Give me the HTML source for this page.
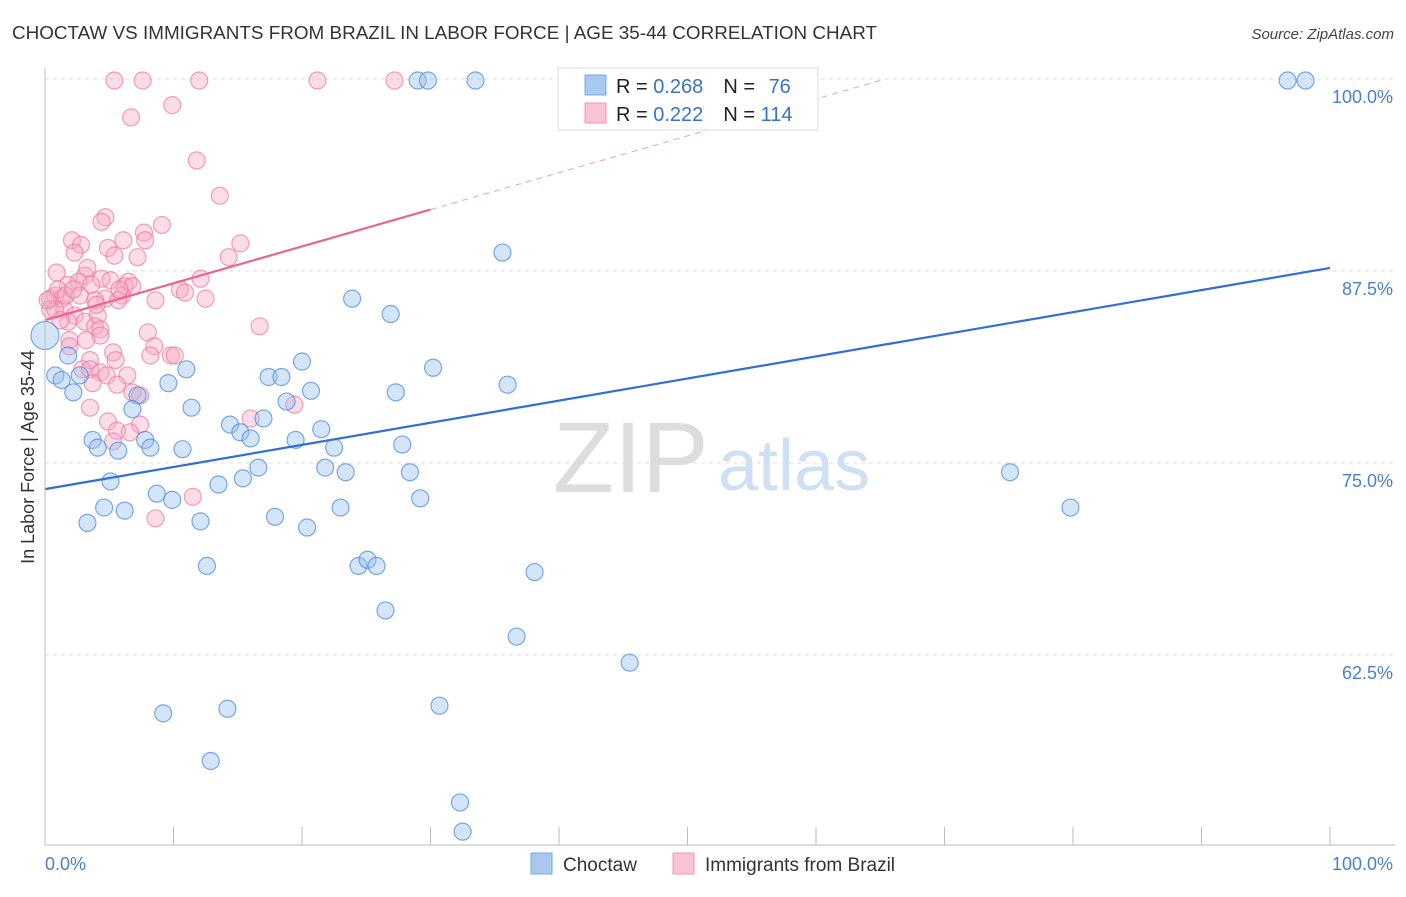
<!DOCTYPE html>
<html><head><meta charset="utf-8"><style>
body{margin:0;background:#fff;font-family:"Liberation Sans",sans-serif}
svg text{font-family:"Liberation Sans",sans-serif}
</style></head><body>
<svg id="chart" width="1406" height="892" viewBox="0 0 1406 892" xmlns="http://www.w3.org/2000/svg">
<text x="12" y="39" font-size="18" fill="#333" textLength="865" lengthAdjust="spacingAndGlyphs">CHOCTAW VS IMMIGRANTS FROM BRAZIL IN LABOR FORCE | AGE 35-44 CORRELATION CHART</text>
<text x="1394" y="39" font-size="15" fill="#444" text-anchor="end" font-style="italic">Source: ZipAtlas.com</text>
<g id="grid"></g>
<g><text x="553" y="492" font-size="100" font-family="Liberation Serif" fill="#ddd">ZIP</text><text x="718" y="490" font-size="72" fill="#cfe0f3">atlas</text></g>
<g id="marks"></g>
<g id="lines"></g>
<line x1="45" y1="68" x2="45" y2="845" stroke="#bbb"/>
<line x1="45" y1="845" x2="1395" y2="845" stroke="#bbb"/>
<g id="xticks"></g>
<g id="ylabels"></g>
<text x="45" y="870" font-size="18" fill="#4a7fd0">0.0%</text>
<text x="1393" y="870" font-size="18" fill="#4a7fd0" text-anchor="end">100.0%</text>
<text transform="translate(34,457) rotate(-90)" font-size="18" fill="#333" text-anchor="middle">In Labor Force | Age 35-44</text>
<g>
<rect x="558" y="68" width="260" height="62" fill="#fff" stroke="#ddd"/>
<rect x="585" y="75" width="21" height="20" fill="#a8c8f0" stroke="#7aa8e4"/>
<rect x="585" y="103" width="21" height="20" fill="#f9c3d2" stroke="#ef9ab4"/>
<text x="616" y="93" font-size="20" fill="#222">R = <tspan fill="#3a72c8">0.268</tspan><tspan dx="20">N = </tspan><tspan fill="#3a72c8" dx="8">76</tspan></text>
<text x="616" y="121" font-size="20" fill="#222">R = <tspan fill="#3a72c8">0.222</tspan><tspan dx="20">N = </tspan><tspan fill="#3a72c8">114</tspan></text>
</g>
<g>
<g><rect x="531" y="853" width="21" height="21" fill="#a8c8f0" stroke="#7aa8e4"/><text x="563" y="871" font-size="19" fill="#333">Choctaw</text></g>
<g><rect x="673" y="853" width="21" height="21" fill="#f9c3d2" stroke="#ef9ab4"/><text x="705" y="871" font-size="19" fill="#333">Immigrants from Brazil</text></g>
</g>
</svg>
<script>
const blueX=[43.2,29.0,29.8,33.5,46.7,96.7,98.1,35.6,23.9,26.9,1.8,0.8,1.3,2.7,11.0,9.6,20.0,17.4,18.4,30.2,36.0,2.2,7.2,27.3,20.7,11.4,18.8,6.8,17.0,14.4,15.2,16.0,3.7,4.1,5.7,7.8,8.2,10.7,19.5,21.5,22.5,27.8,16.6,21.8,23.4,28.4,15.4,5.1,13.5,8.7,9.9,29.2,75.1,79.8,4.6,6.2,3.3,12.1,17.9,20.4,23.0,12.6,24.4,25.1,25.8,38.1,26.5,36.7,45.5,9.2,14.2,30.7,12.9,32.3,32.5,0.0];
const blueY=[99.9,99.9,99.9,99.9,99.9,99.9,99.9,88.7,85.7,84.7,82.0,80.7,80.4,80.7,81.1,80.2,81.6,80.6,80.6,81.2,80.1,79.6,79.4,79.6,79.7,78.6,79.0,78.5,77.9,77.5,77.0,76.6,76.5,76.0,75.8,76.5,76.0,75.9,76.5,77.2,76.0,76.2,74.7,74.7,74.4,74.4,74.0,73.8,73.6,73.0,72.6,72.7,74.4,72.1,72.1,71.9,71.1,71.2,71.5,70.8,72.1,68.3,68.3,68.7,68.3,67.9,65.4,63.7,62.0,58.7,59.0,59.2,55.6,52.9,51.0,83.3];
const pinkX=[5.4,7.6,12.0,21.2,27.2,9.9,6.7,11.8,13.6,4.7,4.4,9.1,7.7,7.8,6.1,2.1,15.2,2.8,4.9,2.3,14.3,7.2,5.4,0.9,3.1,4.4,12.1,6.5,2.6,1.8,3.6,6.2,6.8,10.5,10.9,0.8,0.4,1.3,4.7,6.0,3.9,8.6,12.5,5.7,0.4,1.5,2.3,4.1,3.1,1.8,16.7,3.9,4.3,8.0,4.3,1.9,1.9,8.5,5.3,8.2,9.8,10.1,3.5,5.5,2.9,3.5,4.3,4.8,6.4,3.7,5.6,6.8,7.4,3.5,4.9,7.4,5.6,6.6,5.3,16.0,19.4,11.5,8.6,0.8,1.0,1.2,0.2,1.6,2.7,2.2,5.1,3.3,4.0,3.2,5.8];
const pinkY=[99.9,99.9,99.9,99.9,99.9,98.3,97.5,94.7,92.4,91.0,90.7,90.5,90.0,89.5,89.5,89.5,89.3,89.2,89.0,88.7,88.4,88.4,88.5,87.4,87.2,87.0,87.0,86.8,86.8,86.6,86.6,86.5,86.5,86.3,86.1,85.9,85.7,85.7,85.7,85.9,85.6,85.6,85.7,85.6,85.0,85.0,84.6,84.6,84.2,84.2,83.9,83.9,83.7,83.5,83.3,83.0,82.6,82.6,82.2,82.0,82.0,82.0,81.7,81.7,81.1,81.1,80.9,80.7,80.7,80.2,80.1,79.6,79.4,78.6,77.7,77.5,77.1,77.0,76.4,77.9,78.8,72.8,71.4,85.0,86.3,84.3,85.6,85.9,85.9,86.3,86.9,87.7,85.3,83.0,86.3];
const blueTrend=[73.3,87.7];
const pinkTrend=[84.3,91.5];
const pinkSolidEnd=30;
const yTicks=[100,87.5,75,62.5];
const yTickLabels=["100.0%","87.5%","75.0%","62.5%"];
const xTicks=[0,10,20,30,40,50,60,70,80,90,100];
const NS="http://www.w3.org/2000/svg";
const sx=v=>45+v*12.85;
const sy=v=>79+(100-v)*15.36;
function mk(tag,attrs,parent){const e=document.createElementNS(NS,tag);for(const k in attrs)e.setAttribute(k,attrs[k]);document.getElementById(parent).appendChild(e);return e;}
yTicks.forEach((t,i)=>{
 const g=mk('line',{x1:45,x2:1395,y1:sy(t),y2:sy(t),stroke:'#ddd','stroke-dasharray':'4,4'},'grid');
 
 
 const l=mk('text',{x:1393,y:sy(t)+24,'font-size':18,fill:'#4a7fd0','text-anchor':'end'},'ylabels');
 l.textContent=yTickLabels[i];
 
 
});
xTicks.forEach(t=>{
 const l=mk('line',{x1:sx(t),x2:sx(t),y1:827,y2:845,stroke:'#bbb'},'xticks');
 
 
});
pinkX.forEach((x,i)=>{
 const c=mk('circle',{cx:sx(x),cy:sy(pinkY[i]),r:8.5,fill:'rgba(247,170,195,0.4)',stroke:'rgba(236,120,160,0.7)','stroke-width':1.2},'marks');
 
 
});
blueX.forEach((x,i)=>{
 const big=(i===blueX.length-1);
 const c=mk('circle',{cx:sx(x),cy:sy(blueY[i]),r:big?14:8.5,fill:'rgba(150,190,240,0.4)',stroke:'rgba(80,140,220,0.75)','stroke-width':1.2},'marks');
 
 
});
const bl=mk('line',{x1:sx(0),y1:sy(blueTrend[0]),x2:sx(100),y2:sy(blueTrend[1]),stroke:'#2f6fd6','stroke-width':2.2},'lines');


const slope=(pinkTrend[1]-pinkTrend[0])/pinkSolidEnd;
const pl=mk('line',{x1:sx(0),y1:sy(pinkTrend[0]),x2:sx(pinkSolidEnd),y2:sy(pinkTrend[1]),stroke:'#e8658f','stroke-width':2.2},'lines');


const xEnd=(100-pinkTrend[0])/slope;
const pd=mk('line',{x1:sx(pinkSolidEnd),y1:sy(pinkTrend[1]),x2:sx(xEnd),y2:sy(100),stroke:'#eda0b8','stroke-width':1,'stroke-dasharray':'6,5'},'lines');


</script>
</body></html>
